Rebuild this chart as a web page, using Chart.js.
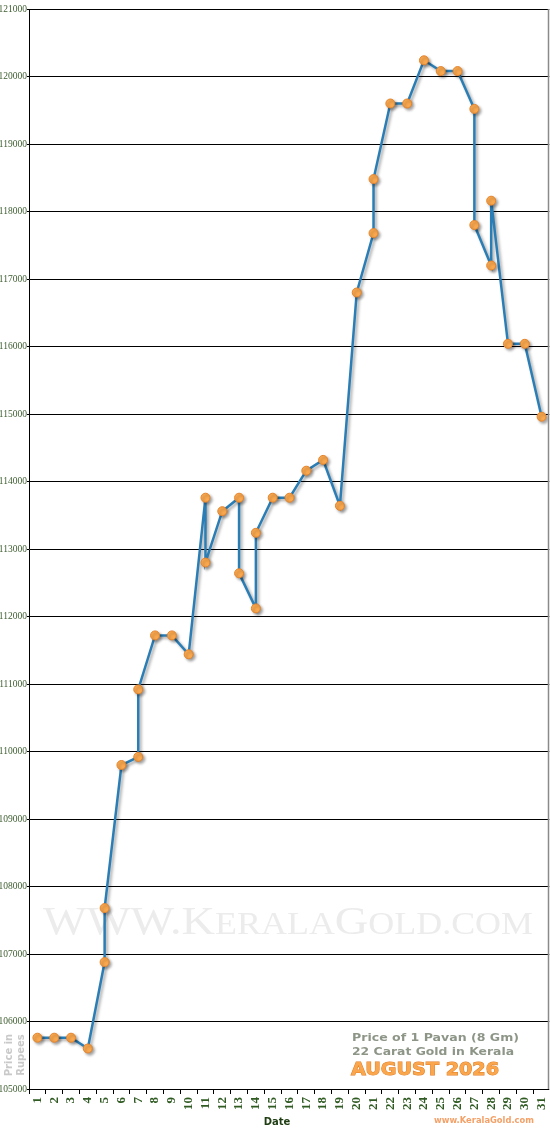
<!DOCTYPE html>
<html>
<head>
<meta charset="utf-8">
<script src="https://cdn.jsdelivr.net/npm/chart.js@4"></script>
<style>
  html, body { margin: 0; padding: 0; background: #fff; }
  #wrap { width: 550px; height: 1130px; position: relative; }
</style>
</head>
<body>
<div id="wrap"><canvas id="gold"></canvas></div>
<script>
// x categories (date of month)
const dayLabels = Array.from({ length: 31 }, (_, i) => String(i + 1));

// each reading: day + price (some days have two rates)
const days = [1, 2, 3, 4, 5, 5, 6, 7, 7, 8, 9, 10, 11, 11, 12, 13, 13, 14, 14, 15,
  16, 17, 18, 19, 20, 21, 21, 22, 23, 24, 25, 26, 27, 27, 28, 28, 29, 30, 31];
const prices = [105760, 105760, 105760, 105600, 106880, 107680, 109800, 109920, 110920, 111720,
  111720, 111440, 113760, 112800, 113560, 113760, 112640, 112120, 113240, 113760,
  113760, 114160, 114320, 113640, 116800, 117680, 118480, 119600, 119600, 120240,
  120080, 120080, 119520, 117800, 117200, 118160, 116040, 116040, 114960];

const yMin = 105000, yMax = 121000, yStep = 1000;

const GREEN = '#2f5a22';

// squeeze/stretch a text to a given width
function fitText(ctx, text, x, y, w, stroke) {
  const m = ctx.measureText(text).width;
  ctx.save();
  ctx.translate(x, y);
  ctx.scale(w / m, 1);
  if (stroke) ctx.strokeText(text, 0, 0);
  ctx.fillText(text, 0, 0);
  ctx.restore();
}

const decor = {
  id: 'decor',
  beforeDatasetsDraw(chart) {
    const ctx = chart.ctx;
    // watermark in small caps
    ctx.save();
    ctx.fillStyle = '#ececec';
    ctx.textBaseline = 'alphabetic';
    const parts = [['WWW.', 40], ['K', 40], ['ERALA', 31], ['G', 40], ['OLD.COM', 31]];
    let total = 0;
    parts.forEach(p => { ctx.font = p[1] + 'px "Liberation Serif"'; total += ctx.measureText(p[0]).width; });
    const sx = 490 / total;
    let x = 43;
    parts.forEach(p => {
      ctx.font = p[1] + 'px "Liberation Serif"';
      const w = ctx.measureText(p[0]).width;
      ctx.save();
      ctx.translate(x, 934);
      ctx.scale(sx, 1);
      ctx.fillText(p[0], 0, 0);
      ctx.restore();
      x += w * sx;
    });
    ctx.restore();

    // shadow under line and dots
    ctx.save();
    ctx.shadowColor = 'rgba(0,0,0,0.35)';
    ctx.shadowBlur = 3;
    ctx.shadowOffsetX = 2;
    ctx.shadowOffsetY = 2;
  },
  afterDatasetsDraw(chart) {
    chart.ctx.restore();
  },
  afterDraw(chart) {
    const ctx = chart.ctx;
    const a = chart.chartArea;
    ctx.save();
    // right frame line
    ctx.fillStyle = '#fff';
    ctx.fillRect(549.3, 0, 1, 1130);
    ctx.strokeStyle = '#8a8a8a';
    ctx.lineWidth = 1.5;
    ctx.beginPath();
    ctx.moveTo(548.5, a.top);
    ctx.lineTo(548.5, a.bottom);
    ctx.stroke();

    // axis title
    ctx.fillStyle = '#1f3d12';
    ctx.font = 'bold 10px "DejaVu Sans"';
    ctx.textAlign = 'center';
    ctx.textBaseline = 'middle';
    ctx.fillText('Date', 277, 1122);

    // y caption, rotated
    ctx.save();
    ctx.translate(15, 1055);
    ctx.rotate(-Math.PI / 2);
    ctx.fillStyle = '#c9c9c9';
    ctx.font = 'bold 10px "DejaVu Sans"';
    ctx.fillText('Price in', 0, -5.5);
    ctx.fillText('Rupees', 0, 6.5);
    ctx.restore();

    // legend block
    ctx.textAlign = 'left';
    ctx.textBaseline = 'middle';
    ctx.fillStyle = '#8d9587';
    ctx.font = 'bold 11px "DejaVu Sans"';
    fitText(ctx, 'Price of 1 Pavan (8 Gm)', 352, 1038, 167);
    fitText(ctx, '22 Carat Gold in Kerala', 352, 1052.5, 162);

    ctx.font = 'bold 18px "DejaVu Sans"';
    ctx.fillStyle = '#f9a64c';
    ctx.strokeStyle = '#e07d26';
    ctx.lineWidth = 1;
    fitText(ctx, 'AUGUST 2026', 351, 1070, 148, true);

    ctx.font = 'bold 9px "DejaVu Sans"';
    ctx.fillStyle = '#f4a066';
    fitText(ctx, 'www.KeralaGold.com', 434, 1120.5, 100);
    ctx.restore();
  }
};

new Chart(document.getElementById('gold'), {
  type: 'line',
  data: {
    labels: dayLabels,
    datasets: [{
      data: days.map((d, i) => ({ x: String(d), y: prices[i] })),
      borderColor: '#2a7db5',
      borderWidth: 2.5,
      tension: 0,
      pointRadius: 4.5,
      pointBackgroundColor: '#fba94f',
      pointBorderColor: '#e5832a',
      pointBorderWidth: 1,
      clip: false
    }]
  },
  options: {
    responsive: true,
    maintainAspectRatio: false,
    animation: false,
    // no auto padding for the dots, keep the plot right up to the frame
    layout: { autoPadding: false, padding: { top: 9, right: 0, left: 0, bottom: 0 } },
    plugins: { legend: { display: false }, tooltip: { enabled: false } },
    scales: {
      x: {
        type: 'category',
        offset: true,
        afterFit: s => { s.height = 41; s.paddingLeft = 0; s.paddingRight = 0; },
        border: { color: '#000', width: 1 },
        grid: { offset: true, drawOnChartArea: false, drawTicks: true, tickLength: 5, color: '#000' },
        ticks: {
          autoSkip: false,
          maxRotation: 90,
          minRotation: 90,
          padding: 3,
          color: GREEN,
          font: { family: 'Liberation Serif', weight: 'bold', size: 13 }
        }
      },
      y: {
        min: yMin,
        max: yMax,
        afterFit: s => { s.width = 29; },
        border: { color: '#000', width: 1 },
        grid: { color: '#000', lineWidth: 1, tickLength: 2 },
        ticks: {
          stepSize: yStep,
          padding: 0,
          color: '#3d5c2f',
          font: { family: 'Liberation Serif', size: 9.5 },
          callback: v => String(v)
        }
      }
    }
  },
  plugins: [decor]
});
</script>
</body>
</html>
